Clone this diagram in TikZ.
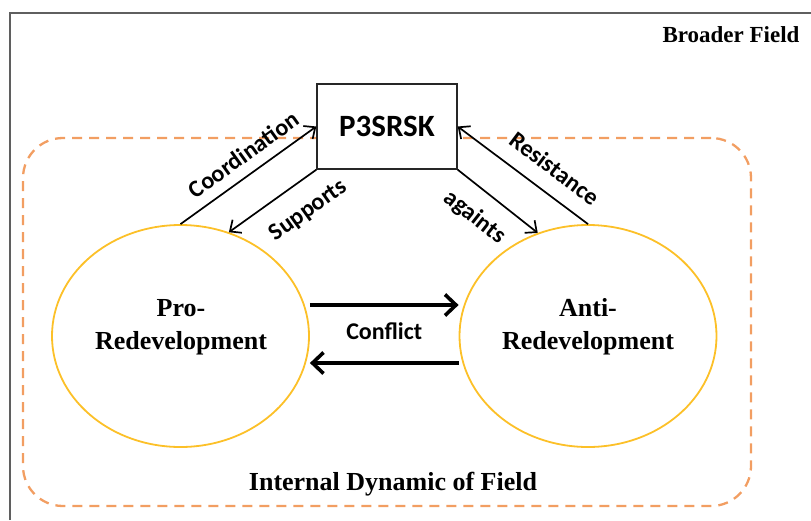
\documentclass[tikz,border=0pt]{standalone}
\usepackage{fontspec}
\setmainfont{Liberation Serif}
\newfontfamily\calibri{Carlito}
\usetikzlibrary{shapes.geometric,arrows.meta,positioning,calc}

\definecolor{fieldorange}{RGB}{242,158,98}
\definecolor{actorgold}{RGB}{252,192,40}
\definecolor{framegray}{RGB}{95,95,95}

\begin{document}
\begin{tikzpicture}[
  x=1pt, y=-1pt,
  every node/.style={font=\calibri\bfseries\fontsize{24}{28}\selectfont},
  actor/.style={ellipse, draw=actorgold, line width=1.8pt, inner sep=0pt, minimum width=257pt, minimum height=222pt},
  actortext/.style={font=\bfseries\fontsize{26}{33}\selectfont, align=center},
  fieldtext/.style={font=\bfseries\fontsize{26}{30}\selectfont},
  field/.style={draw=fieldorange, line width=2.3pt, dash pattern=on 10pt off 7pt, rounded corners=40pt, minimum width=728pt, minimum height=368pt},
  agency/.style={draw=black!85, fill=white, line width=1.4pt, minimum width=140pt, minimum height=85pt, font=\calibri\bfseries\fontsize{31}{36}\selectfont},
  arrow/.style={-{Straight Barb[length=9pt,width=16pt]}, line width=1.7pt},
  clash/.style={-{Straight Barb[length=11pt,width=21pt]}, line width=3.6pt}
]
  \useasboundingbox (0,0) rectangle (811,520);
  \draw[framegray, line width=2pt] (10,520) |- (811,13);
  \node[font=\bfseries\fontsize{23}{28}\selectfont, anchor=east] (broad) at (803,35) {Broader Field};

  \node[field] (field) at (387,322) {};
  \node[fieldtext] (fieldlbl) at (393,484) {Internal Dynamic of Field};

  \node[agency] (p3) at (387,126.5) {P3SRSK};
  \node[actor] (pro) at (180.5,336) {};
  \node[actor] (anti) at (588,336) {};
  \node[actortext] (protext) at (181,327) {Pro-\\Redevelopment};
  \node[actortext] (antitext) at (588,327) {Anti-\\Redevelopment};

  \draw[arrow] (pro.north) -- node[pos=.55, sloped, above=7pt] {Coordination} (p3.west);
  \draw[arrow] (p3.south west) -- node[pos=.28, sloped, below=15pt] {Supports} (pro.65);
  \draw[arrow] (p3.south east) -- node[pos=.42, sloped, below=12pt] {againts} (anti.116);
  \draw[arrow] (anti.north) -- node[pos=.37, sloped, above=12pt] {Resistance} (p3.east);

  \draw[clash] ([yshift=31pt]pro.east) -- node[below=13pt] {Conflict} ([yshift=31pt]anti.west);
  \draw[clash] ([yshift=-27pt]anti.west) -- ([yshift=-27pt]pro.east);
\end{tikzpicture}
\end{document}
